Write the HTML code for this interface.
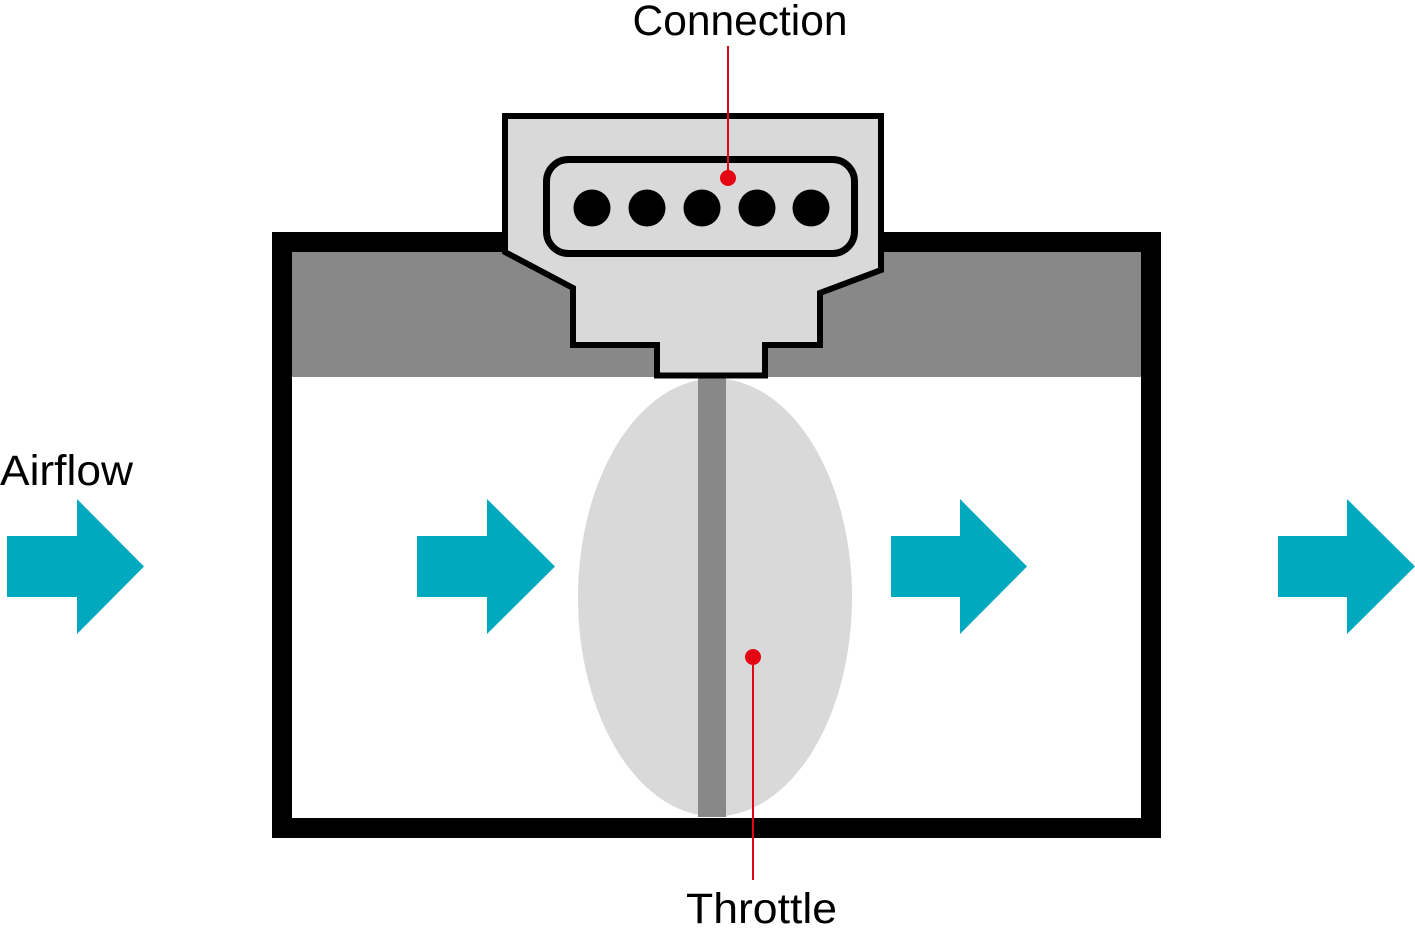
<!DOCTYPE html>
<html>
<head>
<meta charset="utf-8">
<style>
  html, body { margin: 0; padding: 0; background: #ffffff; }
  body { width: 1415px; height: 934px; overflow: hidden; }
  svg { display: block; }
  text { font-family: "Liberation Sans", sans-serif; fill: #000; }
</style>
</head>
<body>
<svg width="1415" height="934" viewBox="0 0 1415 934" xmlns="http://www.w3.org/2000/svg">
  <!-- Housing -->
  <rect x="272" y="232" width="889" height="606" fill="#000"/>
  <rect x="292" y="252" width="849" height="566" fill="#ffffff"/>
  <rect x="292" y="252" width="849" height="125" fill="#888888"/>

  <!-- Throttle plate -->
  <ellipse cx="715" cy="597.5" rx="137" ry="219" fill="#d9d9d9"/>
  <rect x="698" y="376" width="28" height="441" fill="#888888"/>

  <!-- Connector body -->
  <polygon points="505,116 881,116 881,270 820,293 820,345 765,345 765,375.5 657,375.5 657,345 573,345 573,288 505,252"
           fill="#d9d9d9" stroke="#000" stroke-width="6" stroke-linejoin="miter"/>
  <rect x="546.5" y="159.5" width="308" height="94" rx="22" ry="22" fill="#d9d9d9" stroke="#000" stroke-width="7"/>
  <circle cx="592" cy="208" r="18.5" fill="#000"/>
  <circle cx="647" cy="208" r="18.5" fill="#000"/>
  <circle cx="702" cy="208" r="18.5" fill="#000"/>
  <circle cx="757" cy="208" r="18.5" fill="#000"/>
  <circle cx="811" cy="208" r="18.5" fill="#000"/>

  <!-- Callout lines -->
  <line x1="728" y1="46" x2="728" y2="178" stroke="#e30613" stroke-width="2"/>
  <circle cx="728" cy="178" r="8" fill="#e30613"/>
  <line x1="753" y1="657" x2="753" y2="880" stroke="#e30613" stroke-width="2"/>
  <circle cx="753" cy="657" r="8" fill="#e30613"/>

  <!-- Arrows -->
  <g fill="#00a9bd">
    <polygon points="7,536 77,536 77,499 144,566.5 77,634 77,597 7,597"/>
    <polygon points="417,536 487,536 487,499 555,566.5 487,634 487,597 417,597"/>
    <polygon points="891,536 960,536 960,499 1027,566.5 960,634 960,597 891,597"/>
    <polygon points="1278,536 1347,536 1347,499 1415,566.5 1347,634 1347,597 1278,597"/>
  </g>

  <!-- Labels -->
  <text x="740" y="35" font-size="43" text-anchor="middle" textLength="215" lengthAdjust="spacingAndGlyphs">Connection</text>
  <text x="0" y="485" font-size="43" textLength="133" lengthAdjust="spacingAndGlyphs">Airflow</text>
  <text x="686" y="923" font-size="43" textLength="151" lengthAdjust="spacingAndGlyphs">Throttle</text>
</svg>
</body>
</html>
